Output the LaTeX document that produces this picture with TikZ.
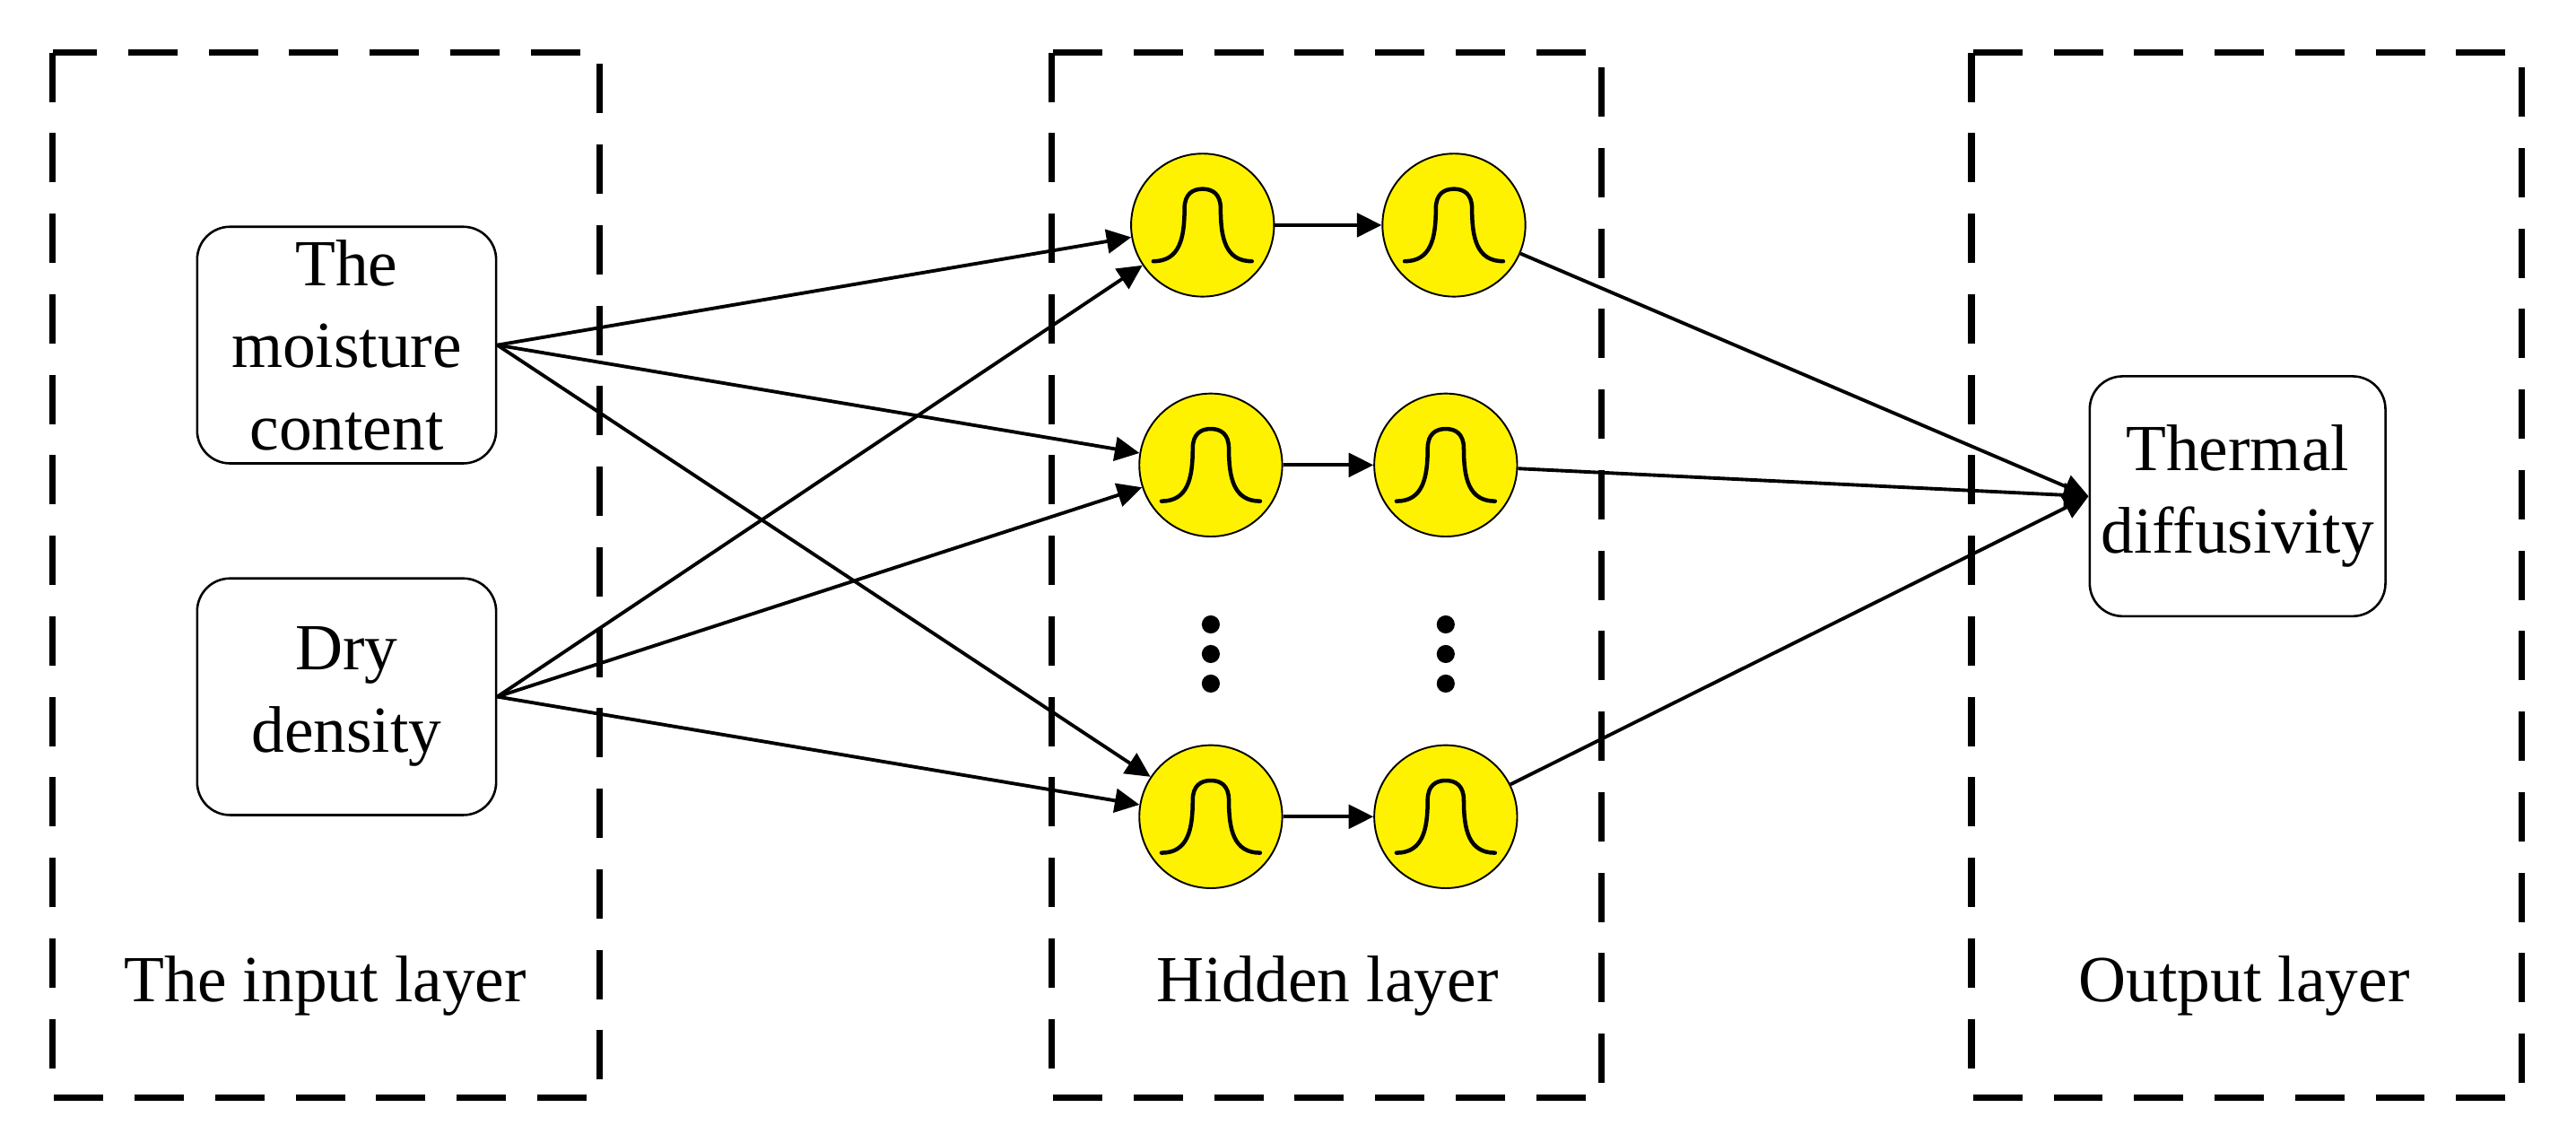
\documentclass[tikz,border=0pt]{standalone}
\usepackage{fontspec}
\setmainfont{Liberation Serif}
\usetikzlibrary{arrows.meta}
\begin{document}
\begin{tikzpicture}[x=0.1mm, y=-0.1mm, >={Triangle[length=1.5mm,width=1.45mm]},
    every node/.style={font=\fontsize{11.4}{14.2}\selectfont},
    layer box/.style={draw, line width=1.1pt, dash pattern=on 3mm off 1.9mm},
    input node/.style={draw, line width=0.4pt, rounded corners=2mm, align=center, minimum width=18.2mm, minimum height=14.4mm, inner sep=1pt},
    rbf node/.style={circle, draw, line width=0.3pt, fill=yellow, minimum size=8.7mm, inner sep=0pt,
        path picture={\begin{scope}[shift={(path picture bounding box.center)}, scale=1.35]
            \draw[line width=0.7pt, line cap=round] (-30,22) .. controls (-14,22) and (-11,8) .. (-11,-10)
                .. controls (-11,-19) and (-6,-22) .. (0,-22) .. controls (6,-22) and (11,-19) .. (11,-10)
                .. controls (11,8) and (14,22) .. (30,22);
            \end{scope}}},
    link/.style={->, line width=0.6pt}]

    \useasboundingbox (0,0) rectangle (1568,690);

    % layers
    \draw[layer box] (32,32) rectangle (365,668);
    \draw[layer box] (640,32) rectangle (975,668);
    \draw[layer box] (1200,32) rectangle (1535,668);
    \node (Lin) at (198,600) {The input layer};
    \node (Lhid) at (808,600) {Hidden layer};
    \node (Lout) at (1366,600) {Output layer};

    % input and output nodes
    \node[input node] (In1) at (211,210) {The\\moisture\\content};
    \node[input node] (In2) at (211,424) {Dry\\density};
    \node[input node, minimum width=18mm, minimum height=14.6mm] (Out) at (1362,302) {Thermal\\diffusivity};

    % hidden nodes
    \node[rbf node] (H1a) at (732,137) {};
    \node[rbf node] (H1b) at (885,137) {};
    \node[rbf node] (H2a) at (737,283) {};
    \node[rbf node] (H2b) at (880,283) {};
    \node[rbf node] (H3a) at (737,497) {};
    \node[rbf node] (H3b) at (880,497) {};
    \foreach \x in {737,880}
        \foreach \y in {380,398,416}
            \fill (\x,\y) circle (0.55mm);

    % connections
    \foreach \s in {In1,In2}
        \foreach \t in {H1a,H2a,H3a}
            \draw[link] (\s.east) -- (\t);
    \draw[link] (H1a) -- (H1b);
    \draw[link] (H2a) -- (H2b);
    \draw[link] (H3a) -- (H3b);
    \foreach \s in {H1b,H2b,H3b}
        \draw[link] (\s) -- (Out.west);

\end{tikzpicture}
\end{document}
